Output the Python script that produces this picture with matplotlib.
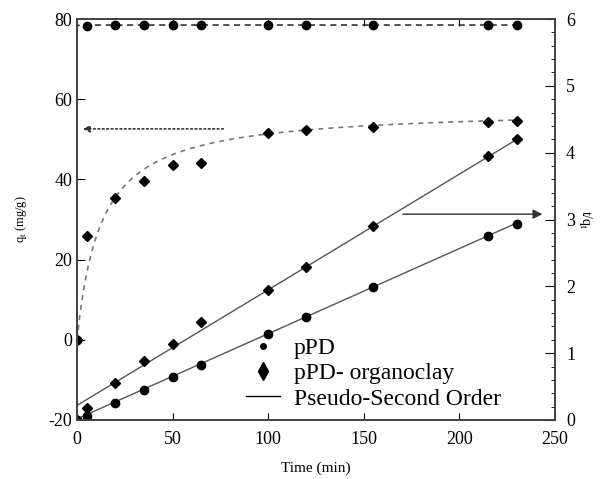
import numpy as np
import matplotlib.pyplot as plt
from matplotlib.lines import Line2D
from matplotlib.ticker import MultipleLocator

plt.rcParams['font.family'] = ['Liberation Serif', 'DejaVu Serif']
plt.rcParams['axes.unicode_minus'] = False

# sampling times (min)
time = [0, 5, 20, 35, 50, 65, 100, 120, 155, 215, 230]

# adsorbed amount q_t (mg/g)
qt_ppd = [0, 78.3, 78.4, 78.4, 78.5, 78.4, 78.5, 78.5, 78.5, 78.4, 78.4]
qt_clay = [0, 25.9, 35.4, 39.6, 43.6, 44.0, 51.6, 52.3, 53.1, 54.3, 54.6]

# linearised form t/q_t
tq_ppd = [0, 0.064, 0.26, 0.45, 0.64, 0.83, 1.28, 1.54, 1.99, 2.75, 2.94]
tq_clay = [0, 0.18, 0.56, 0.88, 1.14, 1.47, 1.94, 2.29, 2.90, 3.95, 4.20]

# pseudo-second-order parameters: q_e (mg/g), initial rate h (mg/g/min)
qe_ppd, h_ppd_curve, h_ppd_line = 78.5, 1.0e5, 60.0
qe_clay, h_clay = 57.8, 4.6


def pso(t, qe, h):
    return h * t / (1 + h * t / qe)


tt = np.concatenate([np.linspace(0, 0.01, 400), np.linspace(0.01, 1, 200),
                     np.linspace(1, 230, 400)])
tl = np.linspace(0, 230, 50)

fig = plt.figure(figsize=(6.07, 4.79), dpi=100)
ax = fig.add_axes([0.1269, 0.1232, 0.7871, 0.8371])
ax2 = ax.twinx()

ax.plot(tt, pso(tt, qe_ppd, h_ppd_curve), ls=(0, (4, 3)), color='#222222', lw=1.1)
ax.plot(tt, pso(tt, qe_clay, h_clay), ls=(0, (3, 3)), color='#777777', lw=1.2)
ax.plot(time, qt_ppd, 'o', color='black', ms=6)
ax.plot(time, qt_clay, 'D', color='black', ms=5)

ax2.plot(tl, 1 / h_ppd_line + tl / qe_ppd, '-', color='#555555', lw=1)
ax2.plot(tl, 1 / h_clay + tl / qe_clay, '-', color='#555555', lw=1)
ax2.plot(time, tq_ppd, 'o', color='black', ms=6)
ax2.plot(time, tq_clay, 'D', color='black', ms=5)

ax.set_xlim(0, 250)
ax.set_ylim(-20, 80)
ax2.set_ylim(0, 6)
ax.xaxis.set_major_locator(MultipleLocator(50))
ax.yaxis.set_major_locator(MultipleLocator(20))
ax2.yaxis.set_major_locator(MultipleLocator(1))
ax2.yaxis.set_minor_locator(MultipleLocator(0.2))

ax.tick_params(axis='x', direction='in', top=True, length=5, labelsize=13, pad=8)
ax.tick_params(axis='y', direction='in', length=6, labelsize=13)
ax2.tick_params(axis='y', which='major', direction='in', length=7, labelsize=13, pad=8)
ax2.tick_params(axis='y', which='minor', direction='in', length=3)
for a in (ax, ax2):
    for s in a.spines.values():
        s.set_color('#444444')
        s.set_linewidth(1.3)

ax.set_xlabel('Time (min)', fontsize=11, labelpad=10)
ax.set_ylabel('q$_\\mathregular{t}$ (mg/g)', fontsize=9, labelpad=14)
ax2.set_ylabel('t/q$_\\mathregular{t}$', fontsize=10, rotation=270, labelpad=14)

# arrows pointing to each axis
ax.annotate('', xy=(1.5, 52.6), xytext=(78, 52.6),
            arrowprops=dict(arrowstyle='-|>', ls=':', color='#333333', lw=1.2))
ax2.annotate('', xy=(245, 3.08), xytext=(169, 3.08),
             arrowprops=dict(arrowstyle='-|>', color='#333333', lw=1.0,
                             mutation_scale=14))

handles = [Line2D([], [], ls='none', marker='o', color='black', ms=4),
           Line2D([], [], ls='none', marker='d', color='black', ms=9),
           Line2D([], [], ls='-', color='black', lw=1)]
ax2.legend(handles, ['pPD', 'pPD- organoclay', 'Pseudo-Second Order'],
           loc='upper left', bbox_to_anchor=(0.33, 0.235), frameon=False,
           fontsize=17, handlelength=1.4, handletextpad=0.6,
           labelspacing=0.16, borderpad=0)

fig.savefig('out.png', dpi=100)
